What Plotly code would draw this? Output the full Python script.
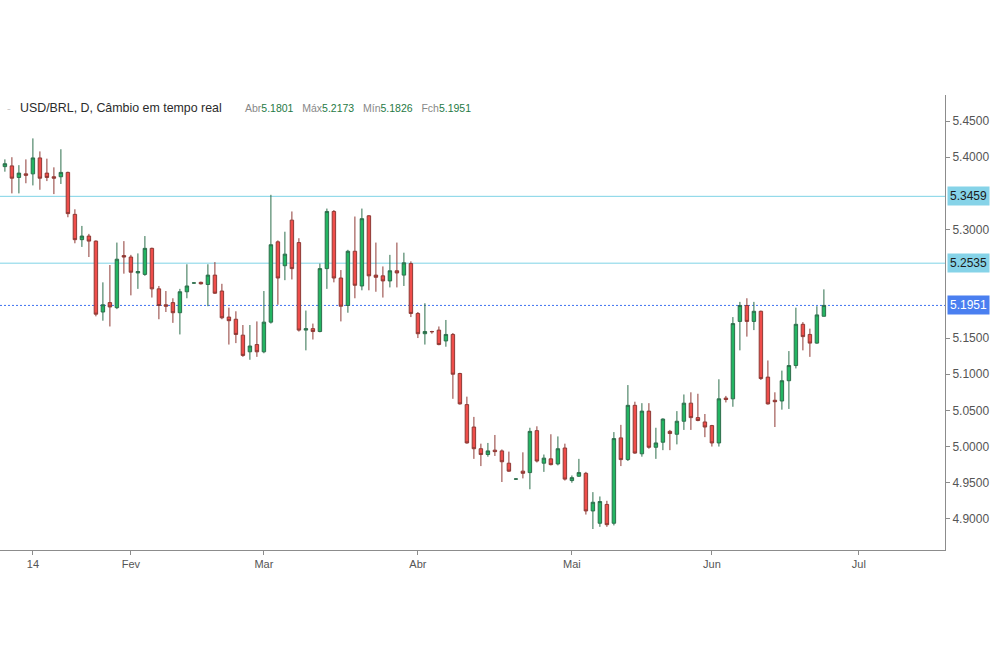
import plotly.graph_objects as go

opens = [5.387, 5.388, 5.372, 5.377, 5.377, 5.399, 5.378, 5.373, 5.373, 5.379,
         5.321, 5.286, 5.291, 5.284, 5.186, 5.199, 5.192, 5.264, 5.262, 5.240,
         5.238, 5.274, 5.218, 5.196, 5.199, 5.185, 5.214, 5.2260, 5.227, 5.224,
         5.237, 5.215, 5.179, 5.176, 5.154, 5.131, 5.141, 5.131, 5.172, 5.283,
         5.250, 5.313, 5.282, 5.161, 5.163, 5.159, 5.246, 5.325, 5.233, 5.195,
         5.270, 5.222, 5.319, 5.237, 5.236, 5.229, 5.243, 5.237, 5.253, 5.184,
         5.156, 5.1590, 5.161, 5.146, 5.155, 5.101, 5.058, 5.027, 4.997, 4.989,
         4.995, 4.994, 4.977, 4.9550, 4.966, 4.964, 5.022, 4.977, 4.983, 4.976,
         4.998, 4.953, 4.959, 4.963, 4.911, 4.894, 4.920, 4.894, 5.012, 4.982,
         5.057, 4.990, 5.049, 4.999, 5.006, 5.021, 5.017, 5.035, 5.060, 5.040,
         5.034, 5.029, 5.005, 5.067, 5.066, 5.173, 5.195, 5.173, 5.187, 5.096,
         5.064, 5.063, 5.091, 5.112, 5.169, 5.155, 5.143, 5.1801]
highs = [5.397, 5.400, 5.389, 5.397, 5.426, 5.408, 5.398, 5.386, 5.411, 5.380,
         5.328, 5.305, 5.294, 5.285, 5.227, 5.251, 5.282, 5.284, 5.265, 5.267,
         5.291, 5.275, 5.222, 5.215, 5.205, 5.218, 5.252, 5.227, 5.228, 5.252,
         5.255, 5.225, 5.192, 5.187, 5.168, 5.168, 5.173, 5.215, 5.348, 5.285,
         5.297, 5.325, 5.288, 5.188, 5.170, 5.253, 5.329, 5.327, 5.244, 5.272,
         5.318, 5.329, 5.320, 5.282, 5.249, 5.265, 5.282, 5.268, 5.256, 5.186,
         5.198, 5.160, 5.166, 5.175, 5.157, 5.102, 5.069, 5.041, 5.004, 5.005,
         5.016, 4.996, 4.993, 4.956, 4.992, 5.026, 5.028, 4.989, 5.017, 5.014,
         5.004, 4.960, 4.983, 4.965, 4.937, 4.931, 4.925, 5.020, 5.030, 5.085,
         5.062, 5.060, 5.060, 5.026, 5.039, 5.023, 5.049, 5.072, 5.075, 5.073,
         5.045, 5.030, 5.093, 5.070, 5.179, 5.200, 5.205, 5.200, 5.188, 5.119,
         5.075, 5.105, 5.132, 5.192, 5.172, 5.163, 5.194, 5.2173]
lows = [5.380, 5.350, 5.350, 5.364, 5.361, 5.355, 5.367, 5.349, 5.363, 5.317,
        5.281, 5.276, 5.262, 5.180, 5.174, 5.166, 5.190, 5.239, 5.209, 5.218,
        5.236, 5.206, 5.176, 5.186, 5.171, 5.155, 5.205, 5.225, 5.224, 5.194,
        5.211, 5.176, 5.141, 5.143, 5.124, 5.120, 5.124, 5.129, 5.170, 5.196,
        5.230, 5.231, 5.159, 5.133, 5.148, 5.158, 5.218, 5.227, 5.173, 5.185,
        5.205, 5.216, 5.216, 5.214, 5.206, 5.220, 5.220, 5.222, 5.179, 5.150,
        5.141, 5.156, 5.140, 5.138, 5.066, 5.058, 5.004, 4.983, 4.973, 4.986,
        4.987, 4.951, 4.965, 4.954, 4.956, 4.941, 4.978, 4.965, 4.974, 4.974,
        4.953, 4.950, 4.958, 4.906, 4.886, 4.889, 4.889, 4.891, 4.973, 4.980,
        4.990, 4.986, 4.997, 4.983, 4.995, 4.995, 5.003, 5.023, 5.023, 5.035,
        5.013, 5.000, 5.000, 5.061, 5.055, 5.133, 5.152, 5.161, 5.092, 5.058,
        5.027, 5.051, 5.052, 5.108, 5.133, 5.124, 5.142, 5.1801]
closes = [5.391, 5.371, 5.378, 5.375, 5.399, 5.371, 5.372, 5.371, 5.379, 5.322,
          5.286, 5.291, 5.284, 5.183, 5.196, 5.193, 5.259, 5.262, 5.241, 5.242,
          5.274, 5.218, 5.195, 5.194, 5.185, 5.214, 5.222, 5.2262, 5.225, 5.237,
          5.212, 5.178, 5.174, 5.155, 5.126, 5.139, 5.131, 5.172, 5.279, 5.233,
          5.266, 5.246, 5.161, 5.163, 5.159, 5.246, 5.325, 5.233, 5.194, 5.270,
          5.223, 5.315, 5.236, 5.234, 5.229, 5.243, 5.240, 5.254, 5.184, 5.156,
          5.159, 5.1588, 5.141, 5.155, 5.100, 5.059, 5.005, 4.997, 4.989, 4.994,
          4.993, 4.979, 4.966, 4.9552, 4.963, 5.021, 4.980, 4.984, 4.975, 4.997,
          4.955, 4.957, 4.964, 4.911, 4.923, 4.924, 4.892, 5.011, 4.982, 5.057,
          4.991, 5.049, 4.999, 5.005, 5.038, 5.018, 5.035, 5.060, 5.040, 5.036,
          5.027, 5.005, 5.066, 5.065, 5.170, 5.195, 5.173, 5.187, 5.094, 5.059,
          5.062, 5.091, 5.112, 5.169, 5.152, 5.143, 5.182, 5.1951]
legend_low = 5.1826

bar_index = list(range(len(opens)))
month_tick_bars = [4, 18, 37, 59, 81, 101, 122]
month_tick_labels = ["14", "Fev", "Mar", "Abr", "Mai", "Jun", "Jul"]
# price ticks visible beside the axis (5.35, 5.25 and 5.20 sit under the level boxes)
price_ticks = [5.45, 5.40, 5.30, 5.15, 5.10, 5.05, 5.00, 4.95, 4.90]
levels = [5.3459, 5.2535]
last_close = closes[-1]

font_family = "Liberation Sans, Arial, sans-serif"

fig = go.Figure()
fig.add_trace(go.Candlestick(
    x=bar_index, open=opens, high=highs, low=lows, close=closes,
    increasing=dict(line=dict(color="#2d6e4c", width=1), fillcolor="#23b562"),
    decreasing=dict(line=dict(color="#8e3a35", width=1), fillcolor="#ef4d4a"),
    whiskerwidth=0, showlegend=False, hoverinfo="skip",
))

shapes = []
for lv in levels:
    shapes.append(dict(type="line", xref="paper", x0=0, x1=1, yref="y", y0=lv, y1=lv,
                       line=dict(color="#7fd3e6", width=1), layer="below"))
shapes.append(dict(type="line", xref="paper", x0=0, x1=1, yref="y", y0=last_close, y1=last_close,
                   line=dict(color="#3f72f0", width=1, dash="2px,2px"), layer="below"))

annotations = []
for lv in levels:
    annotations.append(dict(x=1, xref="paper", y=lv, yref="y", xanchor="left", yanchor="middle",
                            xshift=2, text=f"{lv:.4f}", showarrow=False,
                            bgcolor="#86d3e8", borderpad=2,
                            font=dict(family=font_family, size=12, color="#1a1a1a")))
annotations.append(dict(x=1, xref="paper", y=last_close, yref="y", xanchor="left", yanchor="middle",
                        xshift=2, text=f"{last_close:.4f}", showarrow=False,
                        bgcolor="#4a7ff0", borderpad=2,
                        font=dict(family=font_family, size=12, color="#ffffff")))

annotations.append(dict(x=5 / 945, xref="paper", y=0.971, yref="paper", xanchor="left",
                        yanchor="middle", showarrow=False, text="-",
                        font=dict(family=font_family, size=11, color="#c8c8c8")))
annotations.append(dict(x=18 / 945, xref="paper", y=0.971, yref="paper", xanchor="left",
                        yanchor="middle", showarrow=False,
                        text="USD/BRL, D, Câmbio em tempo real",
                        font=dict(family=font_family, size=12.4, color="#2b2b2b")))
lab = "#888888"
val = "#1f7a45"
gap = "&nbsp;&nbsp;&nbsp;"
ohlc_text = (f"<span style='color:{lab}'>Abr</span><span style='color:{val}'>{opens[-1]:.4f}</span>{gap}"
             f"<span style='color:{lab}'>Máx</span><span style='color:{val}'>{highs[-1]:.4f}</span>{gap}"
             f"<span style='color:{lab}'>Mín</span><span style='color:{val}'>{legend_low:.4f}</span>{gap}"
             f"<span style='color:{lab}'>Fch</span><span style='color:{val}'>{closes[-1]:.4f}</span>")
annotations.append(dict(x=243 / 945, xref="paper", y=0.971, yref="paper", xanchor="left",
                        yanchor="middle", showarrow=False, text=ohlc_text,
                        font=dict(family=font_family, size=10.5)))

fig.update_layout(
    width=1000, height=666,
    margin=dict(l=0, r=55, t=95, b=116),
    paper_bgcolor="#ffffff", plot_bgcolor="#ffffff",
    shapes=shapes, annotations=annotations,
    font=dict(family=font_family, size=11, color="#555555"),
    xaxis=dict(
        range=[-0.7, 134.3], rangeslider=dict(visible=False),
        tickmode="array", tickvals=month_tick_bars, ticktext=month_tick_labels,
        showgrid=False, zeroline=False, showline=True, linecolor="#8c8c8c", linewidth=1,
        ticks="outside", ticklen=4, tickcolor="#8c8c8c",
        tickfont=dict(family=font_family, size=11, color="#555555"),
        fixedrange=True,
    ),
    yaxis=dict(
        side="right", range=[4.857, 5.486],
        tickmode="array", tickvals=price_ticks, ticktext=[f"{t:.4f}" for t in price_ticks],
        showgrid=False, zeroline=False, showline=True, linecolor="#8c8c8c", linewidth=1,
        ticks="outside", ticklen=4, tickcolor="#8c8c8c",
        tickfont=dict(family=font_family, size=12, color="#555555"),
        fixedrange=True,
    ),
)

fig.write_html("out.html")
